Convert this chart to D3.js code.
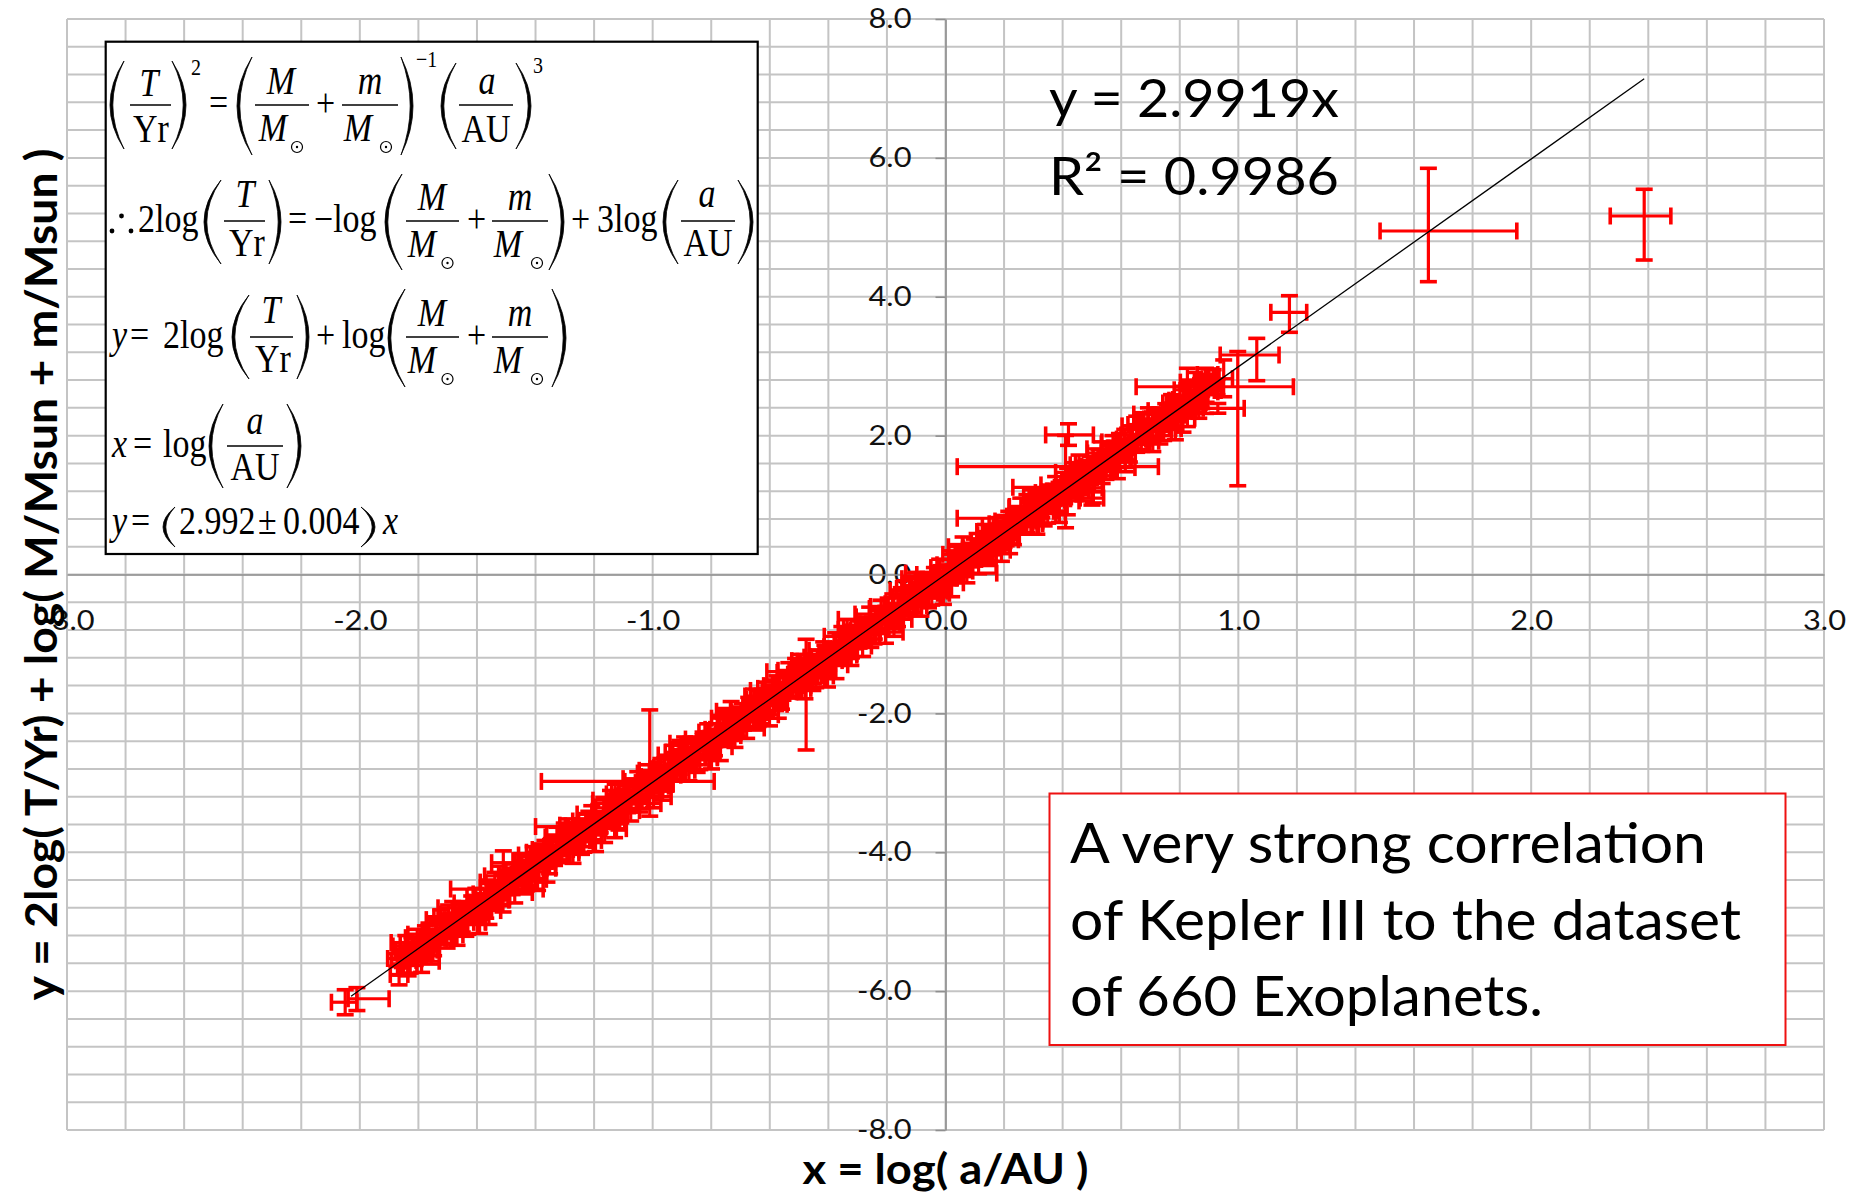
<!DOCTYPE html>
<html>
<head>
<meta charset="utf-8">
<script src="https://cdn.jsdelivr.net/npm/d3@7"></script>
<style>
  html, body { margin: 0; padding: 0; background: #fff; }
  svg { display: block; }
</style>
</head>
<body>
<svg id="chart" width="1856" height="1192"></svg>
<script>
// Axis ticks
const xTickValues = [-3, -2, -1, 0, 1, 2, 3];
const yTickValues = [-8, -6, -4, -2, 0, 2, 4, 6, 8];

// Linear fit through the origin
const fitSlope = 2.9919;
const fitR2 = 0.9986;
const fitXRange = [-2.03, 2.386];

// Planets with small, symmetric uncertainties: [log(a/AU), y, dx, dy]
const bandPoints = [
  [-1.872,-5.55,0.02,0.09],[-1.861,-5.65,0.01,0.12],[-1.849,-5.42,0.03,0.07],[-1.836,-5.51,0.02,0.10],
  [-1.822,-5.31,0.04,0.08],[-1.811,-5.52,0.01,0.11],[-1.797,-5.35,0.02,0.13],[-1.781,-5.46,0.03,0.07],
  [-1.770,-5.23,0.02,0.10],[-1.758,-5.31,0.015,0.09],[-1.741,-5.05,0.03,0.12],[-1.729,-5.24,0.02,0.08],
  [-1.716,-5.13,0.01,0.10],[-1.702,-5.24,0.025,0.14],[-1.690,-4.97,0.02,0.09],[-1.677,-5.05,0.03,0.07],
  [-1.661,-4.85,0.02,0.11],[-1.650,-5.05,0.01,0.10],[-1.638,-4.86,0.04,0.08],[-1.624,-4.92,0.02,0.12],
  [-1.611,-4.72,0.015,0.09],[-1.597,-4.87,0.03,0.10],[-1.585,-4.72,0.02,0.07],[-1.570,-4.82,0.02,0.13],
  [-1.558,-4.53,0.03,0.08],[-1.545,-4.66,0.01,0.10],[-1.531,-4.52,0.02,0.11],[-1.519,-4.68,0.03,0.09],
  [-1.504,-4.42,0.02,0.12],[-1.492,-4.47,0.015,0.08],[-1.479,-4.27,0.03,0.10],[-1.466,-4.47,0.02,0.09],
  [-1.452,-4.31,0.01,0.11],[-1.440,-4.41,0.04,0.07],[-1.427,-4.16,0.02,0.10],[-1.413,-4.28,0.02,0.13],
  [-1.401,-4.14,0.03,0.08],[-1.388,-4.28,0.015,0.10],[-1.374,-4.02,0.02,0.09],[-1.362,-4.10,0.03,0.12],
  [-1.349,-3.90,0.02,0.08],[-1.335,-4.08,0.01,0.11],[-1.322,-3.95,0.03,0.10],[-1.310,-4.04,0.02,0.07],
  [-1.296,-3.81,0.02,0.12],[-1.283,-3.90,0.04,0.09],[-1.270,-3.68,0.015,0.10],[-1.257,-3.79,0.02,0.08],
  [-1.243,-3.68,0.03,0.11],[-1.231,-3.83,0.02,0.09],[-1.218,-3.54,0.01,0.13],[-1.204,-3.67,0.03,0.08],
  [-1.192,-3.55,0.02,0.10],[-1.179,-3.63,0.02,0.09],[-1.165,-3.36,0.03,0.12],[-1.153,-3.49,0.015,0.07],
  [-1.140,-3.35,0.02,0.10],[-1.126,-3.48,0.04,0.11],[-1.114,-3.25,0.02,0.08],[-1.101,-3.29,0.01,0.10],
  [-1.087,-3.10,0.03,0.09],[-1.075,-3.30,0.02,0.12],[-1.062,-3.14,0.02,0.08],[-1.048,-3.27,0.03,0.10],
  [-1.036,-3.01,0.015,0.11],[-1.023,-3.11,0.02,0.09],[-1.009,-2.91,0.03,0.07],[-0.997,-3.07,0.02,0.12],
  [-0.984,-2.91,0.01,0.10],[-0.970,-3.02,0.04,0.08],[-0.958,-2.75,0.02,0.11],[-0.945,-2.86,0.02,0.09],
  [-0.931,-2.73,0.03,0.13],[-0.919,-2.89,0.015,0.08],[-0.906,-2.63,0.02,0.10],[-0.892,-2.68,0.03,0.09],
  [-0.880,-2.49,0.02,0.12],[-0.867,-2.66,0.01,0.08],[-0.853,-2.53,0.03,0.10],[-0.841,-2.63,0.02,0.11],
  [-0.828,-2.38,0.02,0.07],[-0.814,-2.49,0.04,0.10],[-0.802,-2.35,0.015,0.09],[-0.789,-2.49,0.02,0.12],
  [-0.775,-2.23,0.03,0.08],[-0.763,-2.30,0.02,0.10],[-0.750,-2.11,0.01,0.11],[-0.736,-2.29,0.03,0.09],
  [-0.724,-2.16,0.02,0.13],[-0.711,-2.25,0.02,0.08],[-0.697,-2.02,0.03,0.10],[-0.685,-2.11,0.015,0.09],
  [-0.672,-1.89,0.02,0.12],[-0.658,-2.00,0.04,0.07],[-0.646,-1.89,0.02,0.10],[-0.633,-2.04,0.01,0.11],
  [-0.619,-1.75,0.03,0.08],[-0.607,-1.89,0.02,0.10],[-0.594,-1.75,0.02,0.09],[-0.580,-1.84,0.03,0.12],
  [-0.568,-1.57,0.015,0.08],[-0.555,-1.70,0.02,0.11],[-0.541,-1.56,0.03,0.10],[-0.529,-1.69,0.02,0.07],
  [-0.516,-1.46,0.01,0.12],[-0.502,-1.50,0.04,0.09],[-0.490,-1.32,0.02,0.10],[-0.477,-1.51,0.02,0.08],
  [-0.463,-1.35,0.03,0.11],[-0.451,-1.48,0.015,0.09],[-0.438,-1.22,0.02,0.13],[-0.424,-1.32,0.03,0.08],
  [-0.412,-1.12,0.02,0.10],[-0.399,-1.29,0.01,0.09],[-0.385,-1.12,0.03,0.12],[-0.373,-1.24,0.02,0.07],
  [-0.360,-0.96,0.02,0.10],[-0.346,-1.07,0.04,0.11],[-0.334,-0.94,0.015,0.08],[-0.321,-1.10,0.02,0.10],
  [-0.307,-0.84,0.03,0.09],[-0.295,-0.89,0.02,0.12],[-0.282,-0.71,0.01,0.08],[-0.268,-0.87,0.03,0.10],
  [-0.256,-0.75,0.02,0.11],[-0.243,-0.84,0.02,0.09],[-0.229,-0.59,0.03,0.07],[-0.217,-0.70,0.015,0.12],
  [-0.204,-0.56,0.02,0.10],[-0.190,-0.70,0.04,0.08],[-0.178,-0.44,0.02,0.11],[-0.165,-0.52,0.02,0.09],
  [-0.151,-0.32,0.03,0.13],[-0.139,-0.51,0.015,0.08],[-0.126,-0.37,0.02,0.10],[-0.112,-0.46,0.03,0.09],
  [-0.100,-0.23,0.02,0.12],[-0.087,-0.32,0.01,0.08],[-0.073,-0.10,0.03,0.10],[-0.061,-0.21,0.02,0.11],
  [-0.048,-0.10,0.02,0.07],[-0.034,-0.24,0.04,0.10],[-0.022,0.03,0.015,0.09],[-0.009,-0.10,0.02,0.12],
  [0.005,0.05,0.03,0.08],[0.017,-0.05,0.02,0.10],[0.030,0.22,0.01,0.11],[0.044,0.09,0.03,0.09],
  [0.056,0.23,0.02,0.13],[0.069,0.10,0.02,0.08],[0.083,0.33,0.03,0.10],[0.095,0.28,0.015,0.09],
  [0.108,0.47,0.02,0.12],[0.122,0.29,0.04,0.07],[0.134,0.44,0.02,0.10],[0.147,0.31,0.01,0.11],
  [0.161,0.57,0.03,0.08],[0.173,0.47,0.02,0.10],[0.186,0.67,0.02,0.09],[0.200,0.51,0.03,0.12],
  [0.212,0.67,0.015,0.08],[0.225,0.55,0.02,0.11],[0.239,0.84,0.03,0.10],[0.251,0.72,0.02,0.07],
  [0.264,0.85,0.01,0.12],[0.278,0.69,0.04,0.09],[0.290,0.95,0.02,0.10],[0.303,0.90,0.02,0.08],
  [0.317,1.09,0.03,0.11],[0.329,0.91,0.015,0.09],[0.342,1.04,0.02,0.13],[0.356,0.96,0.03,0.08],
  [0.368,1.20,0.02,0.10],[0.381,1.09,0.01,0.09],[0.395,1.23,0.03,0.12],[0.407,1.09,0.02,0.07],
  [0.420,1.35,0.02,0.10],[0.434,1.28,0.04,0.11],[0.446,1.46,0.015,0.08],[0.459,1.28,0.02,0.10],
  [0.473,1.42,0.03,0.09],[0.485,1.33,0.02,0.12],[0.498,1.56,0.01,0.08],[0.512,1.47,0.03,0.10],
  [0.524,1.69,0.02,0.11],[0.537,1.58,0.02,0.09],[0.551,1.69,0.03,0.07],[0.563,1.54,0.015,0.12],
  [0.576,1.82,0.02,0.10],[0.590,1.70,0.04,0.08],[0.602,1.83,0.02,0.11],[0.615,1.74,0.02,0.09],
  [0.629,2.01,0.03,0.13],[0.641,1.88,0.015,0.08],[0.654,2.02,0.02,0.10],[0.668,1.89,0.03,0.09],
  [0.680,2.11,0.02,0.12],[0.693,2.07,0.01,0.08],[0.707,2.24,0.03,0.10],[0.719,2.07,0.02,0.11],
  [0.732,2.23,0.02,0.07],[0.746,2.10,0.04,0.10],[0.758,2.36,0.015,0.09],[0.771,2.26,0.02,0.12],
  [0.785,2.45,0.03,0.08],[0.797,2.30,0.02,0.10],[0.810,2.46,0.01,0.11],[0.824,2.35,0.03,0.09],
  [0.836,2.61,0.02,0.13],[0.849,2.51,0.02,0.08],[0.863,2.64,0.03,0.10],[0.875,2.48,0.015,0.09],
  [0.888,2.74,0.02,0.12],[0.902,2.69,0.04,0.07],[0.914,2.85,0.02,0.10],[0.927,2.70,0.02,0.11]
];

// More scattered planets in the same band: [log(a/AU), y, dx, dy]
const spreadPoints = [
  [-1.866,-5.76,0.03,0.15],[-1.843,-5.30,0.05,0.10],[-1.828,-5.56,0.02,0.18],[-1.804,-5.23,0.04,0.12],
  [-1.789,-5.57,0.06,0.16],[-1.764,-5.22,0.03,0.20],[-1.748,-5.38,0.02,0.11],[-1.723,-4.97,0.05,0.14],
  [-1.708,-5.15,0.03,0.17],[-1.683,-4.80,0.05,0.09],[-1.668,-5.19,0.02,0.15],[-1.644,-4.81,0.04,0.10],
  [-1.631,-5.00,0.06,0.18],[-1.604,-4.64,0.03,0.12],[-1.591,-5.01,0.02,0.16],[-1.563,-4.60,0.05,0.20],
  [-1.551,-4.71,0.03,0.11],[-1.524,-4.34,0.05,0.14],[-1.511,-4.69,0.02,0.17],[-1.486,-4.32,0.04,0.09],
  [-1.471,-4.58,0.06,0.15],[-1.447,-4.12,0.03,0.10],[-1.432,-4.38,0.02,0.18],[-1.408,-4.04,0.05,0.12],
  [-1.393,-4.39,0.03,0.16],[-1.368,-4.03,0.05,0.20],[-1.352,-4.20,0.02,0.11],[-1.327,-3.78,0.04,0.14],
  [-1.312,-3.97,0.06,0.17],[-1.287,-3.61,0.03,0.09],[-1.272,-4.01,0.02,0.15],[-1.248,-3.62,0.05,0.10],
  [-1.235,-3.82,0.03,0.18],[-1.208,-3.45,0.05,0.12],[-1.195,-3.83,0.02,0.16],[-1.167,-3.41,0.04,0.20],
  [-1.155,-3.53,0.06,0.11],[-1.128,-3.16,0.03,0.14],[-1.115,-3.51,0.02,0.17],[-1.090,-3.13,0.05,0.09],
  [-1.075,-3.40,0.03,0.15],[-1.051,-2.94,0.05,0.10],[-1.036,-3.19,0.02,0.18],[-1.012,-2.86,0.04,0.12],
  [-0.997,-3.20,0.06,0.16],[-0.972,-2.85,0.03,0.20],[-0.956,-3.01,0.02,0.11],[-0.931,-2.60,0.05,0.14],
  [-0.916,-2.78,0.03,0.17],[-0.891,-2.43,0.05,0.09],[-0.876,-2.82,0.02,0.15],[-0.852,-2.44,0.04,0.10],
  [-0.839,-2.63,0.06,0.18],[-0.812,-2.27,0.03,0.12],[-0.799,-2.64,0.02,0.16],[-0.771,-2.23,0.05,0.20],
  [-0.759,-2.34,0.03,0.11],[-0.732,-1.97,0.05,0.14],[-0.719,-2.32,0.02,0.17],[-0.694,-1.95,0.04,0.09],
  [-0.679,-2.21,0.06,0.15],[-0.655,-1.75,0.03,0.10],[-0.640,-2.01,0.02,0.18],[-0.616,-1.67,0.05,0.12],
  [-0.601,-2.02,0.03,0.16],[-0.576,-1.66,0.05,0.20],[-0.560,-1.83,0.02,0.11],[-0.535,-1.41,0.04,0.14],
  [-0.520,-1.60,0.06,0.17],[-0.495,-1.24,0.03,0.09],[-0.480,-1.64,0.02,0.15],[-0.456,-1.25,0.05,0.10],
  [-0.443,-1.45,0.03,0.18],[-0.416,-1.09,0.05,0.12],[-0.403,-1.46,0.02,0.16],[-0.375,-1.04,0.04,0.20],
  [-0.363,-1.16,0.06,0.11],[-0.336,-0.79,0.03,0.14],[-0.323,-1.14,0.02,0.17],[-0.298,-0.76,0.05,0.09],
  [-0.283,-1.03,0.03,0.15],[-0.259,-0.57,0.05,0.10],[-0.244,-0.82,0.02,0.18],[-0.220,-0.49,0.04,0.12],
  [-0.205,-0.83,0.06,0.16],[-0.180,-0.48,0.03,0.20],[-0.164,-0.64,0.02,0.11],[-0.139,-0.23,0.05,0.14],
  [-0.124,-0.41,0.03,0.17],[-0.099,-0.06,0.05,0.09],[-0.084,-0.45,0.02,0.15],[-0.060,-0.07,0.04,0.10],
  [-0.047,-0.26,0.06,0.18],[-0.020,0.10,0.03,0.12],[-0.007,-0.27,0.02,0.16],[0.021,0.14,0.05,0.20],
  [0.033,0.03,0.03,0.11],[0.060,0.40,0.05,0.14],[0.073,0.05,0.02,0.17],[0.098,0.42,0.04,0.09],
  [0.113,0.16,0.06,0.15],[0.137,0.62,0.03,0.10],[0.152,0.37,0.02,0.18],[0.176,0.70,0.05,0.12],
  [0.191,0.35,0.03,0.16],[0.216,0.71,0.05,0.20],[0.232,0.54,0.02,0.11],[0.257,0.96,0.04,0.14],
  [0.272,0.77,0.06,0.17],[0.297,1.13,0.03,0.09],[0.312,0.73,0.02,0.15],[0.336,1.12,0.05,0.10],
  [0.349,0.92,0.03,0.18],[0.376,1.29,0.05,0.12],[0.389,0.91,0.02,0.16],[0.417,1.33,0.04,0.20],
  [0.429,1.21,0.06,0.11],[0.456,1.58,0.03,0.14],[0.469,1.23,0.02,0.17],[0.494,1.61,0.05,0.09],
  [0.509,1.34,0.03,0.15],[0.533,1.81,0.05,0.10],[0.548,1.55,0.02,0.18],[0.572,1.88,0.04,0.12],
  [0.587,1.54,0.06,0.16],[0.612,1.89,0.03,0.20],[0.628,1.73,0.02,0.11],[0.653,2.14,0.05,0.14],
  [0.668,1.96,0.03,0.17],[0.693,2.31,0.05,0.09],[0.708,1.92,0.02,0.15],[0.732,2.30,0.04,0.10],
  [0.745,2.11,0.06,0.18],[0.772,2.47,0.03,0.12],[0.785,2.10,0.02,0.16],[0.813,2.51,0.05,0.20],
  [0.825,2.40,0.03,0.11],[0.852,2.77,0.05,0.14],[0.865,2.42,0.02,0.17],[0.890,2.79,0.04,0.09]
];

// Further planets filling the core of the band: [log(a/AU), y, dx, dy]
const corePoints = [
  [-1.855,-5.53,0.05,0.13],[-1.835,-5.60,0.03,0.18],[-1.817,-5.35,0.07,0.10],[-1.795,-5.41,0.04,0.16],
  [-1.776,-5.18,0.06,0.12],[-1.756,-5.41,0.02,0.20],[-1.737,-5.15,0.05,0.14],[-1.716,-5.21,0.04,0.11],
  [-1.697,-4.93,0.05,0.17],[-1.677,-5.03,0.03,0.15],[-1.657,-4.89,0.07,0.13],[-1.638,-5.03,0.04,0.18],
  [-1.618,-4.73,0.06,0.10],[-1.598,-4.84,0.02,0.16],[-1.578,-4.72,0.05,0.12],[-1.559,-4.84,0.04,0.20],
  [-1.539,-4.43,0.05,0.14],[-1.519,-4.64,0.03,0.11],[-1.499,-4.44,0.07,0.17],[-1.480,-4.46,0.04,0.15],
  [-1.460,-4.35,0.06,0.13],[-1.440,-4.42,0.02,0.18],[-1.420,-4.16,0.05,0.10],[-1.401,-4.23,0.04,0.16],
  [-1.381,-4.00,0.05,0.12],[-1.361,-4.23,0.03,0.20],[-1.341,-3.96,0.07,0.14],[-1.322,-4.04,0.04,0.11],
  [-1.302,-3.75,0.06,0.17],[-1.282,-3.85,0.02,0.15],[-1.262,-3.71,0.05,0.13],[-1.243,-3.85,0.04,0.18],
  [-1.223,-3.55,0.05,0.10],[-1.203,-3.66,0.03,0.16],[-1.183,-3.54,0.07,0.12],[-1.164,-3.66,0.04,0.20],
  [-1.144,-3.25,0.06,0.14],[-1.124,-3.46,0.02,0.11],[-1.104,-3.26,0.05,0.17],[-1.085,-3.28,0.04,0.15],
  [-1.065,-3.17,0.05,0.13],[-1.045,-3.24,0.03,0.18],[-1.025,-2.98,0.07,0.10],[-1.006,-3.05,0.04,0.16],
  [-0.986,-2.82,0.06,0.12],[-0.966,-3.05,0.02,0.20],[-0.946,-2.78,0.05,0.14],[-0.927,-2.85,0.04,0.11],
  [-0.907,-2.56,0.05,0.17],[-0.887,-2.66,0.03,0.15],[-0.867,-2.52,0.07,0.13],[-0.848,-2.67,0.04,0.18],
  [-0.828,-2.37,0.06,0.10],[-0.808,-2.48,0.02,0.16],[-0.788,-2.36,0.05,0.12],[-0.769,-2.48,0.04,0.20],
  [-0.749,-2.07,0.05,0.14],[-0.729,-2.28,0.03,0.11],[-0.709,-2.08,0.07,0.17],[-0.690,-2.09,0.04,0.15],
  [-0.670,-1.99,0.06,0.13],[-0.650,-2.06,0.02,0.18],[-0.630,-1.80,0.05,0.10],[-0.611,-1.87,0.04,0.16],
  [-0.591,-1.64,0.05,0.12],[-0.571,-1.87,0.03,0.20],[-0.551,-1.60,0.07,0.14],[-0.532,-1.67,0.04,0.11],
  [-0.512,-1.38,0.06,0.17],[-0.492,-1.48,0.02,0.15],[-0.472,-1.34,0.05,0.13],[-0.453,-1.49,0.04,0.18],
  [-0.433,-1.19,0.05,0.10],[-0.413,-1.30,0.03,0.16],[-0.393,-1.18,0.07,0.12],[-0.374,-1.30,0.04,0.20],
  [-0.354,-0.89,0.06,0.14],[-0.334,-1.10,0.02,0.11],[-0.314,-0.90,0.05,0.17],[-0.295,-0.91,0.04,0.15],
  [-0.275,-0.80,0.05,0.13],[-0.255,-0.87,0.03,0.18],[-0.235,-0.61,0.07,0.10],[-0.216,-0.69,0.04,0.16],
  [-0.196,-0.46,0.06,0.12],[-0.176,-0.69,0.02,0.20],[-0.156,-0.42,0.05,0.14],[-0.137,-0.49,0.04,0.11],
  [-0.117,-0.20,0.05,0.17],[-0.097,-0.30,0.03,0.15],[-0.077,-0.16,0.07,0.13],[-0.058,-0.30,0.04,0.18],
  [-0.038,0.00,0.06,0.10],[-0.018,-0.11,0.02,0.16],[0.002,0.01,0.05,0.12],[0.021,-0.12,0.04,0.20],
  [0.041,0.29,0.05,0.14],[0.061,0.08,0.03,0.11],[0.081,0.28,0.07,0.17],[0.100,0.27,0.04,0.15],
  [0.120,0.38,0.06,0.13],[0.140,0.31,0.02,0.18],[0.160,0.57,0.05,0.10],[0.179,0.50,0.04,0.16],
  [0.199,0.73,0.05,0.12],[0.219,0.50,0.03,0.20],[0.239,0.77,0.07,0.14],[0.258,0.69,0.04,0.11],
  [0.278,0.98,0.06,0.17],[0.298,0.88,0.02,0.15],[0.318,1.02,0.05,0.13],[0.337,0.88,0.04,0.18],
  [0.357,1.18,0.05,0.10],[0.377,1.07,0.03,0.16],[0.397,1.19,0.07,0.12],[0.416,1.06,0.04,0.20],
  [0.436,1.47,0.06,0.14],[0.456,1.26,0.02,0.11],[0.476,1.46,0.05,0.17],[0.495,1.45,0.04,0.15],
  [0.515,1.56,0.05,0.13],[0.535,1.49,0.03,0.18],[0.555,1.75,0.07,0.10],[0.574,1.68,0.04,0.16],
  [0.594,1.91,0.06,0.12],[0.614,1.68,0.02,0.20],[0.634,1.95,0.05,0.14],[0.653,1.87,0.04,0.11],
  [0.673,2.16,0.05,0.17],[0.693,2.06,0.03,0.15],[0.713,2.20,0.07,0.13],[0.732,2.06,0.04,0.18],
  [0.752,2.36,0.06,0.10],[0.772,2.25,0.02,0.16],[0.792,2.37,0.05,0.12],[0.811,2.25,0.04,0.20],
  [0.831,2.66,0.05,0.14],[0.851,2.45,0.03,0.11],[0.871,2.65,0.07,0.17],[0.890,2.63,0.04,0.15]
];

// Planets with wide or lopsided uncertainties: [x, y, x-, x+, y-, y+]
const widePoints = [
  [-2.050,-6.16,0.047,0.040,0.18,0.18],
  [-2.010,-6.11,0.030,0.110,0.17,0.16],
  [-1.510,-4.15,0.040,0.040,0.16,0.17],
  [-1.530,-4.53,0.160,0.156,0.09,0.09],
  [-1.010,-2.98,0.370,0.220,0.50,1.03],
  [-1.100,-3.30,0.105,0.128,0.08,0.07],
  [-1.220,-3.63,0.180,0.050,0.08,0.08],
  [-1.130,-3.66,0.030,0.040,0.13,0.12],
  [-0.476,-1.40,0.134,0.088,1.127,0.467],
  [-0.220,-0.646,0.146,0.105,0.06,0.06],
  [0.030,0.02,0.166,0.145,0.06,0.06],
  [0.410,1.553,0.370,0.317,0.88,0.45],
  [0.420,2.01,0.078,0.085,0.15,0.16],
  [0.250,0.81,0.210,0.040,0.07,0.07],
  [0.400,1.256,0.170,0.030,0.07,0.07],
  [0.505,1.25,0.030,0.030,0.22,0.14],
  [0.500,1.10,0.040,0.040,0.10,0.10],
  [0.826,2.52,0.050,0.070,0.39,0.45],
  [0.888,2.65,0.030,0.030,0.33,0.32],
  [0.950,2.82,0.030,0.030,0.26,0.27],
  [0.900,2.88,0.040,0.030,0.08,0.08],
  [0.930,2.393,0.050,0.090,0.07,0.07],
  [0.998,2.704,0.347,0.190,1.426,0.507],
  [1.063,3.161,0.125,0.076,0.37,0.24],
  [1.1745,3.776,0.0635,0.059,0.288,0.239],
  [1.649,4.947,0.165,0.302,0.73,0.903],
  [2.386,5.163,0.116,0.091,0.634,0.385]
];

const xTitle = "x = log( a/AU )";
const yTitle = "y = 2log( T/Yr) + log( M/Msun + m/Msun )";
const noteLines = ["A very strong correlation", "of Kepler III to the dataset", "of 660 Exoplanets."];

// ---------------------------------------------------------------
const svg = d3.select("#chart");
const SANS = "Lato, 'Open Sans', sans-serif";
const x = d3.scaleLinear().domain([-3, 3]).range([67, 1824]);
const y = d3.scaleLinear().domain([-8, 8]).range([1130, 19]);

function stretch(sel, factor) {
  sel.each(function () {
    const w = this.getComputedTextLength();
    this.setAttribute("textLength", (w * factor).toFixed(1));
    this.setAttribute("lengthAdjust", "spacingAndGlyphs");
  });
}
function fitWidth(sel, width) {
  sel.attr("textLength", width).attr("lengthAdjust", "spacingAndGlyphs");
}

// Minor grid: every 0.2 in x, every 0.4 in y
const gridX = d3.range(31).map(i => +(-3 + i * 0.2).toFixed(2));
const gridY = d3.range(41).map(i => +(-8 + i * 0.4).toFixed(2));
const grid = svg.append("g").attr("stroke", "#c4c4c4").attr("stroke-width", 2);
grid.selectAll(".gx").data(gridX).join("line")
  .attr("x1", d => x(d)).attr("x2", d => x(d))
  .attr("y1", y(8)).attr("y2", y(-8));
grid.selectAll(".gy").data(gridY).join("line")
  .attr("x1", x(-3)).attr("x2", x(3))
  .attr("y1", d => y(d)).attr("y2", d => y(d));

// Axes crossing at the origin
const yAxis = d3.axisLeft(y).tickValues(yTickValues)
  .tickFormat(d => d.toFixed(1)).tickSize(10).tickSizeOuter(0).tickPadding(24);
const xAxis = d3.axisBottom(x).tickValues(xTickValues)
  .tickFormat(d => d.toFixed(1)).tickSize(0).tickSizeOuter(0).tickPadding(36);

const gy = svg.append("g").attr("transform", `translate(${x(0)},0)`).call(yAxis);
const gx = svg.append("g").attr("transform", `translate(0,${y(0)})`).call(xAxis);
[gx, gy].forEach(g => {
  g.select(".domain").attr("stroke", "#8f8f8f").attr("stroke-width", 1.6);
  g.selectAll(".tick line").attr("stroke", "#8f8f8f").attr("stroke-width", 1.6);
  g.selectAll("text").attr("font-family", SANS).attr("font-size", 27).attr("fill", "#111");
  stretch(g.selectAll("text"), 1.14);
});

// Error bars
const symmetric = ([px, py, dx, dy]) => ({ x: px, y: py, xm: dx, xp: dx, ym: dy, yp: dy });
const allPoints = bandPoints.map(symmetric)
  .concat(spreadPoints.map(symmetric))
  .concat(corePoints.map(symmetric))
  .concat(widePoints.map(([px, py, xm, xp, ym, yp]) => ({ x: px, y: py, xm, xp, ym, yp })));

const CAP = 8.5;
const bars = svg.append("g").attr("stroke", "#ff0000").attr("stroke-width", 3.2);
bars.selectAll("g").data(allPoints).join("g").each(function (d) {
  const g = d3.select(this);
  const cx = x(d.x), cy = y(d.y);
  const x0 = x(d.x - d.xm), x1 = x(d.x + d.xp);
  const y0 = y(d.y - d.ym), y1 = y(d.y + d.yp);
  g.append("line").attr("x1", cx).attr("x2", cx).attr("y1", y0).attr("y2", y1);
  g.append("line").attr("x1", x0).attr("x2", x1).attr("y1", cy).attr("y2", cy);
  g.append("line").attr("x1", cx - CAP).attr("x2", cx + CAP).attr("y1", y0).attr("y2", y0).attr("stroke-width", 3.6);
  g.append("line").attr("x1", cx - CAP).attr("x2", cx + CAP).attr("y1", y1).attr("y2", y1).attr("stroke-width", 3.6);
  g.append("line").attr("x1", x0).attr("x2", x0).attr("y1", cy - CAP).attr("y2", cy + CAP).attr("stroke-width", 3.6);
  g.append("line").attr("x1", x1).attr("x2", x1).attr("y1", cy - CAP).attr("y2", cy + CAP).attr("stroke-width", 3.6);
});

// Fitted line y = slope * x
svg.append("line")
  .attr("x1", x(fitXRange[0])).attr("y1", y(fitSlope * fitXRange[0]))
  .attr("x2", x(fitXRange[1])).attr("y2", y(fitSlope * fitXRange[1]))
  .attr("stroke", "#000").attr("stroke-width", 1.3);

// Fit statistics
const stats = svg.append("g").attr("font-family", SANS).attr("font-size", 53).attr("fill", "#000");
fitWidth(stats.append("text").attr("x", 1049).attr("y", 117).text(`y = ${fitSlope}x`), 290);
fitWidth(stats.append("text").attr("x", 1049).attr("y", 195).text(`R² = ${fitR2}`), 290);

// Axis titles
fitWidth(svg.append("text")
  .attr("transform", `translate(57,${y(0)}) rotate(-90)`)
  .attr("text-anchor", "middle").attr("font-family", SANS).attr("font-weight", 700)
  .attr("font-size", 43).text(yTitle), 852);
fitWidth(svg.append("text")
  .attr("x", x(0)).attr("y", 1184).attr("text-anchor", "middle")
  .attr("font-family", SANS).attr("font-weight", 700).attr("font-size", 42).text(xTitle), 286);

// Note box
svg.append("rect").attr("x", 1049.5).attr("y", 793.5).attr("width", 736).attr("height", 251.5)
  .attr("fill", "#fff").attr("stroke", "#ee1111").attr("stroke-width", 2);
const note = svg.append("g").attr("font-family", SANS).attr("font-size", 56).attr("fill", "#000");
const noteWidths = [636, 671, 473];
noteLines.forEach((t, i) => {
  fitWidth(note.append("text").attr("x", 1070).attr("y", 863 + i * 76.5).text(t), noteWidths[i]);
});

// Derivation box
svg.append("rect").attr("x", 105.7).attr("y", 41.7).attr("width", 652).attr("height", 512.3)
  .attr("fill", "#fff").attr("stroke", "#000").attr("stroke-width", 2.2);
const eq = svg.append("g").attr("font-family", "'Liberation Serif', 'Times New Roman', serif").attr("fill", "#000");
const MS = 34, SY = 1.15;
function mt(str, x0, base, opt = {}) {
  const t = eq.append("text")
    .attr("transform", `translate(${x0},${base}) scale(1,${SY})`)
    .attr("font-size", opt.size || MS)
    .attr("text-anchor", opt.anchor || "start")
    .text(str);
  if (opt.italic) t.attr("font-style", "italic");
  return t;
}
function hbar(x1, x2, yy) {
  eq.append("line").attr("x1", x1).attr("x2", x2).attr("y1", yy).attr("y2", yy)
    .attr("stroke", "#000").attr("stroke-width", 1.7);
}
function paren(x1, x2, top, bottom, left) {
  const mid = (top + bottom) / 2, t = 2.8;
  let d;
  if (left) {
    const tip = x2 - 1, ap = x1;
    d = `M${tip},${top} Q${2 * ap - tip},${mid} ${tip},${bottom} Q${2 * (ap + t) - tip},${mid} ${tip},${top}Z`;
  } else {
    const tip = x1 + 1, ap = x2;
    d = `M${tip},${top} Q${2 * ap - tip},${mid} ${tip},${bottom} Q${2 * (ap - t) - tip},${mid} ${tip},${top}Z`;
  }
  eq.append("path").attr("d", d).attr("fill", "#000").attr("stroke", "#000").attr("stroke-width", 0.8);
}
function sun(cx, cy) {
  eq.append("circle").attr("cx", cx).attr("cy", cy).attr("r", 5.5)
    .attr("fill", "none").attr("stroke", "#000").attr("stroke-width", 1.2);
  eq.append("circle").attr("cx", cx).attr("cy", cy).attr("r", 1.2).attr("fill", "#000");
}
// M/M_sun fraction (or m/M_sun) centred on a bar
function massFrac(numStr, numX, x1, x2, barY, denX, sunX) {
  mt(numStr, numX, barY - 11, { italic: true, anchor: "middle" });
  hbar(x1, x2, barY);
  mt("M", denX, barY + 36, { italic: true, anchor: "middle" });
  sun(sunX, barY + 42);
}

// (T/Yr)^2 = (M/Msun + m/Msun)^-1 (a/AU)^3
paren(110, 125, 61, 149, true);
mt("T", 149, 96, { italic: true, anchor: "middle" });
hbar(130, 171, 105);
mt("Yr", 151, 142, { anchor: "middle" });
paren(171, 186, 61, 149, false);
mt("2", 191, 75, { size: 20 });
mt("=", 209, 116);
paren(237, 253, 57, 155, true);
massFrac("M", 281, 255, 309, 105, 273, 297);
mt("+", 316, 116);
massFrac("m", 370, 342, 398, 105, 358, 386);
paren(400, 413, 57, 155, false);
mt("\u22121", 416, 67, { size: 20 });
paren(441, 457, 63, 149, true);
mt("a", 487, 94, { italic: true, anchor: "middle" });
hbar(459, 513, 105);
mt("AU", 486, 142, { anchor: "middle" });
paren(515, 531, 63, 149, false);
mt("3", 533, 73, { size: 20 });

// ∴ 2log(T/Yr) = −log(M/Msun + m/Msun) + 3log(a/AU)
[[121.5, 216], [112, 231], [131, 231]].forEach(([cx, cy]) =>
  eq.append("circle").attr("cx", cx).attr("cy", cy).attr("r", 2.4).attr("fill", "#000"));
mt("2log", 138, 232);
paren(204, 222, 180, 264, true);
mt("T", 245, 207, { italic: true, anchor: "middle" });
hbar(224, 265, 221);
mt("Yr", 247, 256, { anchor: "middle" });
paren(268, 281, 180, 264, false);
mt("=", 288, 232);
mt("\u2212log", 314, 232);
paren(385, 403, 174, 270, true);
massFrac("M", 432, 406, 459, 221, 422, 447.5);
mt("+", 467, 232);
massFrac("m", 520, 492, 548, 221, 508, 537);
paren(548, 564, 174, 270, false);
mt("+", 571, 232);
mt("3log", 597, 232);
paren(663, 679, 180, 264, true);
mt("a", 707, 207, { italic: true, anchor: "middle" });
hbar(681, 735, 221);
mt("AU", 708, 256, { anchor: "middle" });
paren(737, 753, 180, 264, false);

// y = 2log(T/Yr) + log(M/Msun + m/Msun)
mt("y", 112, 348, { italic: true });
mt("=", 130, 348);
mt("2log", 163, 348);
paren(232, 250, 295, 379, true);
mt("T", 271, 323, { italic: true, anchor: "middle" });
hbar(250, 293, 337);
mt("Yr", 273, 372, { anchor: "middle" });
paren(296, 309, 295, 379, false);
mt("+", 316, 348);
mt("log", 342, 348);
paren(388, 406, 289, 387, true);
massFrac("M", 432, 406, 459, 337, 422, 447.5);
mt("+", 467, 348);
massFrac("m", 520, 492, 548, 337, 508, 537);
paren(551, 566, 289, 387, false);

// x = log(a/AU)
mt("x", 112, 457, { italic: true });
mt("=", 133, 457);
mt("log", 163, 457);
paren(209, 224, 404, 488, true);
mt("a", 255, 434, { italic: true, anchor: "middle" });
hbar(227, 283, 446);
mt("AU", 255, 480, { anchor: "middle" });
paren(286, 301, 404, 488, false);

// y = (2.992 ± 0.004) x
mt("y", 112, 534, { italic: true });
mt("=", 131, 534);
paren(163, 176, 507, 547, true);
mt("2.992", 179, 534);
mt("\u00b1", 258, 534);
mt("0.004", 283, 534);
paren(360, 375, 507, 547, false);
mt("x", 383, 534, { italic: true });
</script>
</body>
</html>
